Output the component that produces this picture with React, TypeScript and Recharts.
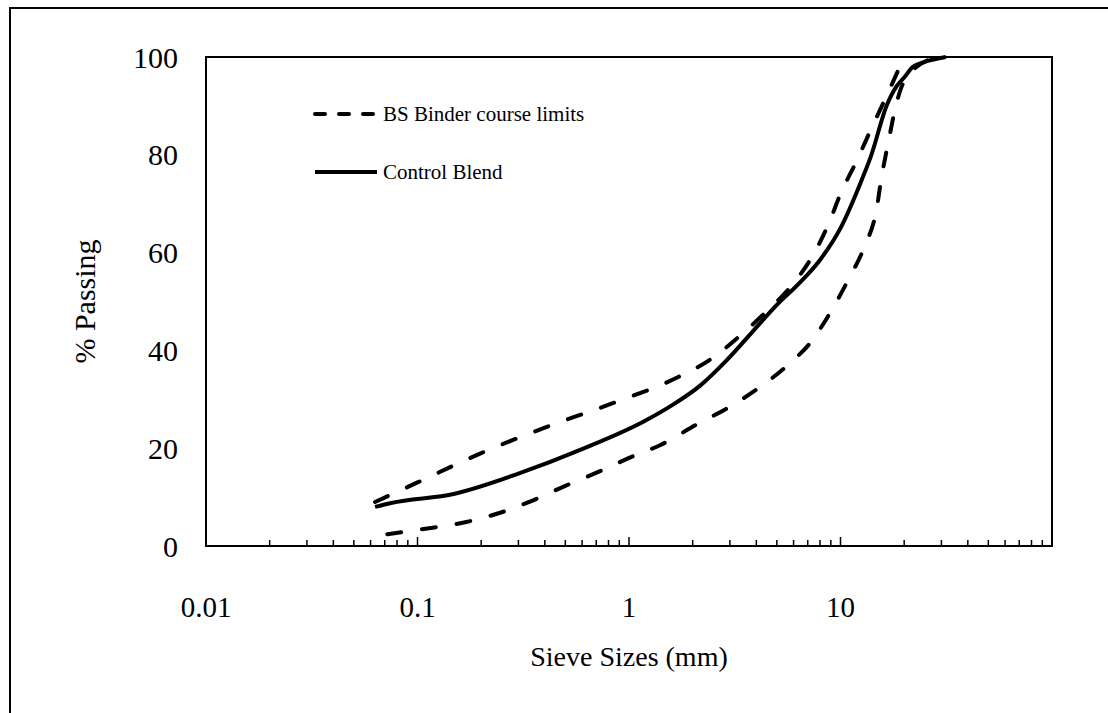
import {
    LineChart,
    Line,
    XAxis,
    YAxis,
    Legend,
    Label,
    ReferenceArea,
} from 'recharts';

// sieve size (mm) / % passing
const upperSizes = [0.063, 0.1, 0.2, 0.4, 0.85, 1.7, 2.4, 3.35, 4.4, 5.8, 7.3, 8.75, 10, 12, 14, 16.5, 20];
const upperPassing = [9, 13, 19, 24.2, 29.3, 34.5, 38, 43, 47.7, 53, 59, 65.7, 72, 79, 85.4, 92, 100];

const lowerSizes = [0.072, 0.12, 0.17, 0.25, 0.35, 0.5, 0.73, 1.05, 1.4, 2.1, 2.95, 4.1, 5.6, 7.3, 9.1, 10.9, 13, 14.8, 15.6, 16.8, 18.2, 20, 28];
const lowerPassing = [2.4, 3.8, 4.9, 6.9, 9.3, 12.3, 15.3, 18.4, 20.6, 24.9, 28.3, 32.3, 36.9, 41.9, 48.3, 54.5, 61.3, 68.8, 75.2, 82.4, 89.7, 95, 100];

const blendSizes = [0.063, 0.075, 0.15, 0.3, 0.6, 1.18, 1.6, 2.17, 2.9, 3.87, 5, 6.3, 8, 10, 12.5, 14, 16.5, 18.4, 20, 22, 25, 31.5];
const blendPassing = [8, 8.8, 10.7, 14.8, 19.8, 25.5, 28.8, 32.8, 38, 44, 49.3, 53.5, 58.5, 65, 74.5, 80, 90, 94, 95.8, 98, 99, 100];

const yTicks = [0, 20, 40, 60, 80, 100];
const xMajor = [0.01, 0.1, 1, 10];
const xMajorLabels = ['0.01', '0.1', '1', '10'];
const minorSteps = [2, 3, 4, 5, 6, 7, 8, 9];

const FONT = '"Liberation Serif", "Times New Roman", serif';

const toPoints = (xs: number[], ys: number[]) => xs.map((x, i) => ({ x, y: ys[i] }));

const upperData = toPoints(upperSizes, upperPassing);
const lowerData = toPoints(lowerSizes, lowerPassing);
const blendData = toPoints(blendSizes, blendPassing);

const xTicks: number[] = [];
xMajor.forEach((d) => {
    xTicks.push(d);
    minorSteps.forEach((m) => xTicks.push(d * m));
});

const legendItems = [
    { name: 'BS Binder course limits', dash: '10 14' },
    { name: 'Control Blend', dash: undefined },
];

const XTick = (props: any) => {
    const { x, y, payload } = props;
    const idx = xMajor.findIndex((v) => Math.abs(v - payload.value) < 1e-9);
    const major = idx >= 0;
    return (
        <g>
            <line x1={x} x2={x} y1={y} y2={y - (major ? 9 : 6)} stroke="#000" strokeWidth={1.5} />
            {major && (
                <text x={x} y={y + 71} textAnchor="middle" fontSize={29} fontFamily={FONT} fill="#000">
                    {xMajorLabels[idx]}
                </text>
            )}
        </g>
    );
};

const YTitle = (props: any) => {
    const { viewBox } = props;
    const cx = viewBox.x + 84;
    const cy = viewBox.y + viewBox.height / 2;
    return (
        <text
            x={cx}
            y={cy}
            transform={`rotate(-90 ${cx} ${cy})`}
            textAnchor="middle"
            dominantBaseline="central"
            fontSize={30}
            fontFamily={FONT}
            fill="#000"
        >
            % Passing
        </text>
    );
};

const LegendBox = () => (
    <div style={{ fontFamily: FONT, fontSize: 21, color: '#000' }}>
        {legendItems.map((item) => (
            <div key={item.name} style={{ display: 'flex', alignItems: 'center', height: 58 }}>
                <svg width={72} height={10}>
                    <line
                        x1={4}
                        x2={66}
                        y1={5}
                        y2={5}
                        stroke="#000"
                        strokeWidth={4}
                        strokeDasharray={item.dash}
                        strokeLinecap={item.dash ? 'round' : 'butt'}
                    />
                </svg>
                <span>{item.name}</span>
            </div>
        ))}
    </div>
);

const App = () => {
    return (
        <div
            style={{
                position: 'fixed',
                left: 0,
                top: 0,
                width: 1108,
                height: 713,
                overflow: 'hidden',
                background: '#fff',
            }}
        >
            <div
                style={{
                    position: 'absolute',
                    left: 9,
                    top: 7,
                    width: 1200,
                    height: 900,
                    border: '2px solid #000',
                }}
            />
            <div style={{ position: 'absolute', left: 0, top: 0 }}>
                <LineChart
                    width={1108}
                    height={713}
                    margin={{ top: 57, right: 56, left: 0, bottom: 47 }}
                >
                    <XAxis
                        dataKey="x"
                        type="number"
                        scale="log"
                        domain={[0.01, 100]}
                        allowDataOverflow
                        ticks={xTicks}
                        interval={0}
                        tick={<XTick />}
                        tickLine={false}
                        tickSize={0}
                        tickMargin={0}
                        height={120}
                        axisLine={{ stroke: '#000', strokeWidth: 2 }}
                    >
                        <Label
                            value="Sieve Sizes (mm)"
                            position="insideBottom"
                            offset={0}
                            style={{ fontSize: 28, fontFamily: FONT, fill: '#000' }}
                        />
                    </XAxis>
                    <YAxis
                        type="number"
                        domain={[0, 100]}
                        ticks={yTicks}
                        interval={0}
                        width={206}
                        tickLine={false}
                        tickSize={0}
                        tickMargin={28}
                        tick={{ fontSize: 30, fontFamily: FONT, fill: '#000' }}
                        axisLine={{ stroke: '#000', strokeWidth: 2 }}
                    >
                        <Label content={<YTitle />} />
                    </YAxis>
                    <ReferenceArea
                        x1={0.01}
                        x2={100}
                        y1={0}
                        y2={100}
                        fill="none"
                        stroke="#000"
                        strokeWidth={2}
                    />
                    <Legend
                        layout="vertical"
                        verticalAlign="middle"
                        align="center"
                        wrapperStyle={{ left: 311, top: 85, width: 'auto' }}
                        content={<LegendBox />}
                    />
                    <Line
                        data={upperData}
                        dataKey="y"
                        name="BS Binder course limits"
                        type="monotone"
                        stroke="#000"
                        strokeWidth={4}
                        strokeDasharray="14 21"
                        strokeLinecap="round"
                        dot={false}
                        isAnimationActive={false}
                    />
                    <Line
                        data={lowerData}
                        dataKey="y"
                        name="BS Binder course limits lower"
                        type="monotone"
                        stroke="#000"
                        strokeWidth={4}
                        strokeDasharray="14 21"
                        strokeLinecap="round"
                        dot={false}
                        isAnimationActive={false}
                    />
                    <Line
                        data={blendData}
                        dataKey="y"
                        name="Control Blend"
                        type="monotone"
                        stroke="#000"
                        strokeWidth={4}
                        dot={false}
                        isAnimationActive={false}
                    />
                </LineChart>
            </div>
        </div>
    );
};

export default App;
